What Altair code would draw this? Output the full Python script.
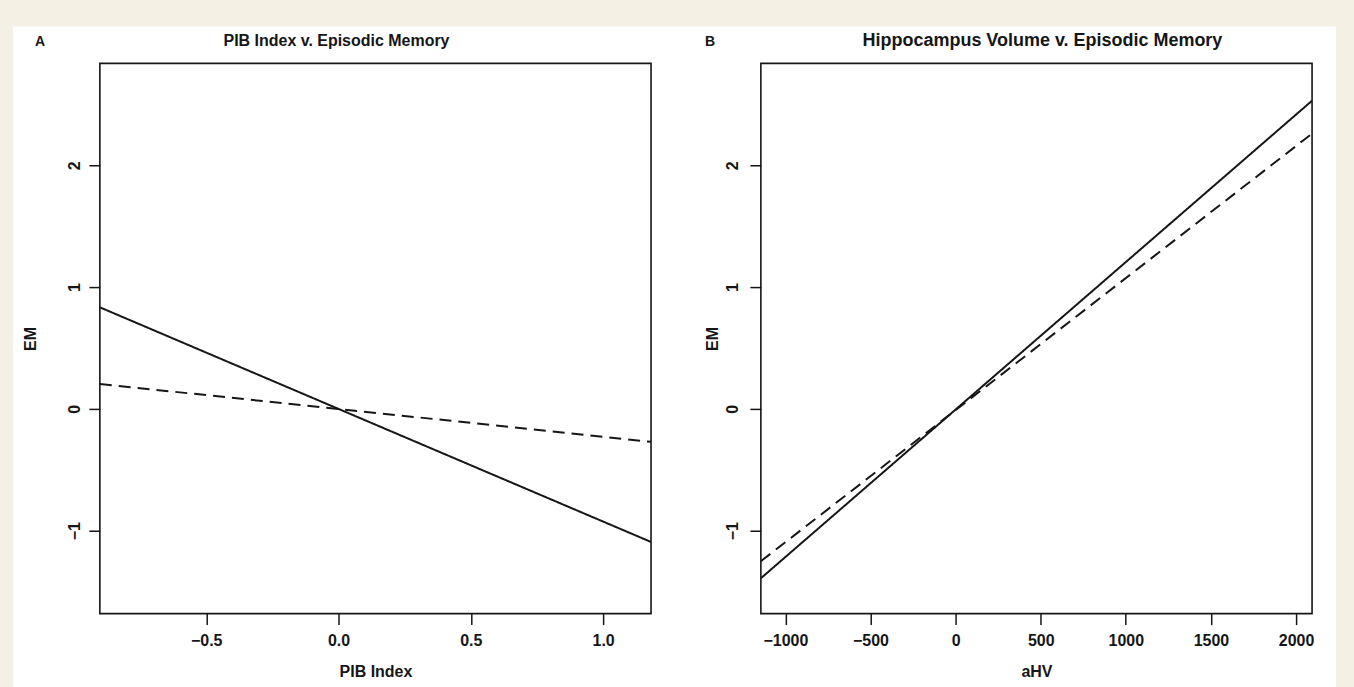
import altair as alt
import pandas as pd

# Panel A: fitted episodic memory against PIB index (endpoints at the axis limits)
pib_x = [-0.902, 1.181]
pib_em_solid = [0.834, -1.092]
pib_em_dashed = [0.205, -0.270]

# Panel B: fitted episodic memory against adjusted hippocampus volume
ahv_x = [-1144, 2094]
ahv_em_solid = [-1.39, 2.53]
ahv_em_dashed = [-1.25, 2.26]

em_domain = [-1.68, 2.836]
em_ticks = [-1, 0, 1, 2]
pib_ticks = [-0.5, 0.0, 0.5, 1.0]
ahv_ticks = [-1000, -500, 0, 500, 1000, 1500, 2000]
fit_types = ["solid", "dashed"]

W, H = 552, 551
FONT = "Liberation Sans"
INK = "#161616"
PAGE = "#f4f0e4"


def fit_table(xs, solid, dashed):
    return pd.DataFrame({
        "x": list(xs) + list(xs),
        "em": list(solid) + list(dashed),
        "fit": [fit_types[0]] * len(xs) + [fit_types[1]] * len(xs),
    })


one_row = pd.DataFrame({"k": [0]})


def heading(text, x, size):
    return alt.Chart(one_row).mark_text(
        text=text, font=FONT, fontSize=size, fontWeight="bold", color=INK,
        align="center", baseline="alphabetic",
    ).encode(x=alt.value(x), y=alt.value(-17))


def panel(df, x_domain, x_ticks, x_format, x_title, title, title_x, title_size,
          letter, letter_x, y_label_pad, y_title_pad, backdrop=False):
    x_enc = alt.X(
        "x:Q",
        scale=alt.Scale(domain=x_domain, nice=False, zero=False),
        axis=alt.Axis(values=x_ticks, format=x_format, title=x_title,
                      titlePadding=15, zindex=1),
    )
    y_enc = alt.Y(
        "em:Q",
        scale=alt.Scale(domain=em_domain, nice=False, zero=False),
        axis=alt.Axis(values=em_ticks, format="d", title="EM",
                      labelAngle=270, titleAngle=270, labelPadding=y_label_pad,
                      titlePadding=y_title_pad, zindex=1),
    )
    lines = alt.Chart(df).mark_line(clip=True, strokeWidth=2, color=INK).encode(
        x=x_enc,
        y=y_enc,
        strokeDash=alt.StrokeDash(
            "fit:N",
            scale=alt.Scale(domain=fit_types, range=[[1, 0], [12, 7]]),
            legend=None,
        ),
    )
    frame = alt.Chart(one_row).mark_rect(
        fillOpacity=0, stroke=INK, strokeWidth=1.6
    ).encode(x=alt.value(0), x2=alt.value(W), y=alt.value(0), y2=alt.value(H))

    layers = [frame, lines, heading(title, title_x, title_size),
              heading(letter, letter_x, 14)]
    if backdrop:
        # white sheet behind both panels
        sheet = alt.Chart(one_row).mark_rect(color="white").encode(
            x=alt.value(-87), x2=alt.value(1238), y=alt.value(-37), y2=alt.value(625)
        )
        layers = [sheet] + layers

    return alt.layer(*layers).properties(width=W, height=H)


panel_a = panel(fit_table(pib_x, pib_em_solid, pib_em_dashed), pib_x, pib_ticks,
                ".1f", "PIB Index", "PIB Index v. Episodic Memory", 237, 16,
                "A", -60, 6, 28, backdrop=True)
panel_b = panel(fit_table(ahv_x, ahv_em_solid, ahv_em_dashed), ahv_x, ahv_ticks,
                "d", "aHV", "Hippocampus Volume v. Episodic Memory", W / 2 + 6, 18,
                "B", -51, 9, 4)

chart = alt.hconcat(panel_a, panel_b, spacing=110, bounds="flush").properties(
    padding={"left": 12, "top": 25, "right": 17, "bottom": 0},
    background=PAGE,
).configure_view(
    stroke="transparent"
).configure_axis(
    domain=False, grid=False,
    tickColor=INK, tickWidth=1.5, tickSize=11,
    labelFont=FONT, labelFontSize=16, labelFontWeight="bold", labelColor=INK,
    labelPadding=8,
    titleFont=FONT, titleFontSize=16, titleFontWeight="bold", titleColor=INK,
)

chart.save("out.html", embed_options={"renderer": "svg", "actions": False})
